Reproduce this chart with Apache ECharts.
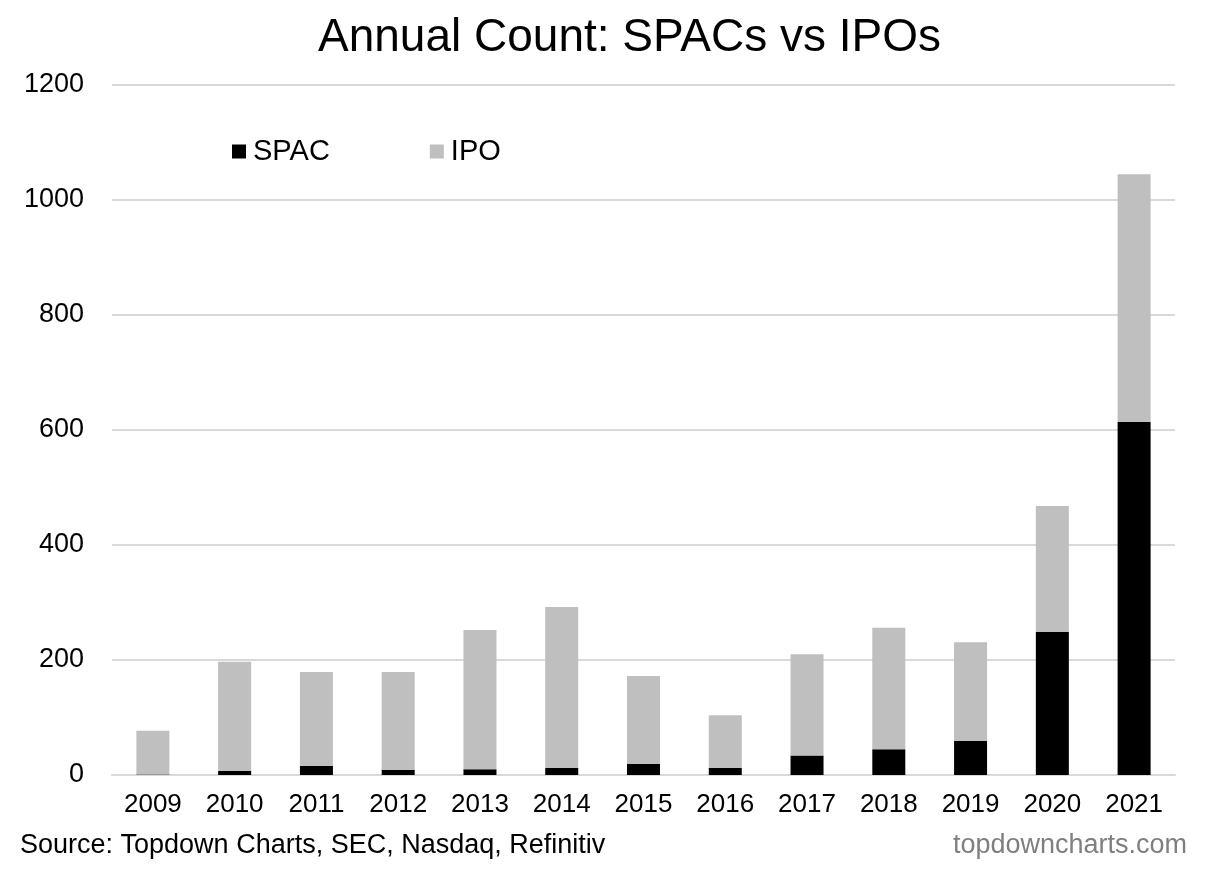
<!DOCTYPE html>
<html><head><meta charset="utf-8">
<script src="https://cdn.jsdelivr.net/npm/echarts@6/dist/echarts.min.js"></script>
<style>html,body{margin:0;padding:0;background:#fff}#c{width:1222px;height:873px}</style>
</head><body><div id="c"></div>
<script>
const categories = ['2009','2010','2011','2012','2013','2014','2015','2016','2017','2018','2019','2020','2021'];
const spac = [1, 7, 16, 9, 10, 12, 19, 12, 34, 45, 59, 249, 614];
const total = [77, 197, 179, 179, 252, 292, 172, 104, 210, 256, 231, 468, 1045];
const ipo = total.map((t, i) => t - spac[i]);
const yTicks = [0, 200, 400, 600, 800, 1000, 1200];

const font = '"Liberation Sans", Arial, sans-serif';
const chart = echarts.init(document.getElementById('c'), null, {renderer: 'canvas'});
chart.setOption({
  animation: false,
  backgroundColor: '#fff',
  textStyle: {fontFamily: font},
  title: {
    text: 'Annual Count: SPACs vs IPOs',
    left: 313, top: 10,
    textStyle: {fontFamily: font, fontSize: 46, fontWeight: 'normal', color: '#000'}
  },
  legend: {
    left: 227, top: 132,
    itemWidth: 14, itemHeight: 14, itemGap: 100,
    icon: 'rect',
    textStyle: {fontFamily: font, fontSize: 29, color: '#000', padding: [0,0,0,2]},
    data: ['SPAC', 'IPO']
  },
  grid: {left: 112, right: 47, top: 85, bottom: 98},
  xAxis: {
    type: 'category', data: categories,
    axisLine: {show: true, lineStyle: {color: '#d9d9d9', width: 2}},
    axisTick: {show: false},
    axisLabel: {fontFamily: font, fontSize: 26, color: '#000', margin: 17}
  },
  yAxis: {
    type: 'value', min: yTicks[0], max: yTicks[yTicks.length - 1], interval: 200,
    axisLine: {show: false}, axisTick: {show: false},
    axisLabel: {fontFamily: font, fontSize: 27, color: '#000', margin: 28, formatter: v => String(v)},
    splitLine: {lineStyle: {color: '#d9d9d9', width: 2}}
  },
  series: [
    {name: 'SPAC', type: 'bar', stack: 'a', data: spac, barWidth: 33, itemStyle: {color: '#000'}},
    {name: 'IPO', type: 'bar', stack: 'a', data: ipo, barWidth: 33, itemStyle: {color: '#bfbfbf'}}
  ],
  graphic: [
    {type: 'text', left: 20, top: 832, style: {text: 'Source: Topdown Charts, SEC, Nasdaq, Refinitiv', font: '27px ' + font, fill: '#000'}},
    {type: 'text', right: 35, top: 832, style: {text: 'topdowncharts.com', font: '27px ' + font, fill: '#7f7f7f'}}
  ]
});
</script></body></html>
